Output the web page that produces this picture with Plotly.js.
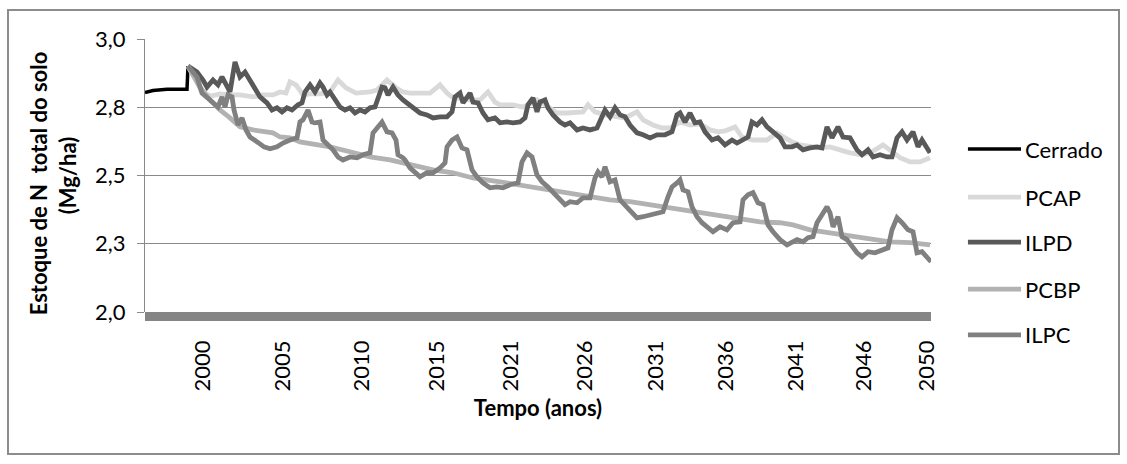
<!DOCTYPE html>
<html>
<head>
<meta charset="utf-8">
<script src="https://cdn.plot.ly/plotly-3.0.1.min.js"></script>
<style>
  html, body { margin: 0; padding: 0; background: #ffffff; }
  #frame { position: absolute; left: 7px; top: 9px; width: 1113px; height: 446px;
           border: 2px solid #8c8c8c; box-sizing: border-box; background: #fff; }
  #chart { width: 1109px; height: 442px; }
</style>
</head>
<body>
<div id="frame"><div id="chart"></div></div>
<script>
// ---- data (time step index, N stock in Mg/ha) ----
const cerradoT = [0, 8, 22, 42, 43];
const cerradoN = [2.804, 2.811, 2.816, 2.816, 2.901];

const pcapT = [43,51,57,66,75,85,95,108,118,128,135,141,145,151,158,165,175,185,193,201,211,225,232,242,251,258,265,275,285,295,302,307,315,325,335,343,350,355,368,378,385,392,400,412,422,432,438,443,450,460,470,480,492,498,508,517,525,535,545,555,565,573,580,590,597,608,622,632,640,647,655,665,675,685,695,705,717,727,738,745,755,765,775,785];
const pcapN = [2.901,2.850,2.806,2.791,2.799,2.795,2.795,2.788,2.795,2.795,2.806,2.802,2.843,2.832,2.795,2.799,2.799,2.806,2.850,2.821,2.802,2.806,2.813,2.850,2.821,2.806,2.802,2.802,2.802,2.832,2.802,2.788,2.784,2.777,2.777,2.806,2.769,2.759,2.759,2.751,2.762,2.777,2.759,2.729,2.729,2.733,2.733,2.759,2.733,2.722,2.718,2.711,2.733,2.704,2.685,2.674,2.674,2.696,2.685,2.689,2.667,2.660,2.663,2.678,2.641,2.630,2.630,2.656,2.638,2.623,2.612,2.605,2.601,2.605,2.594,2.583,2.576,2.587,2.612,2.594,2.565,2.550,2.550,2.565];

const ilpdT = [43,52,58,62,68,73,77,81,85,90,95,100,103,108,115,122,127,132,137,142,147,153,157,160,165,170,175,178,182,185,190,195,200,205,210,215,220,225,230,233,237,240,243,248,253,258,263,268,275,282,288,295,302,307,310,315,318,325,328,333,338,343,350,355,362,368,375,380,383,388,392,395,400,403,408,415,420,425,432,438,445,452,457,460,465,470,475,480,485,492,498,505,512,520,527,532,535,540,545,550,555,560,567,573,580,587,592,598,603,607,612,617,622,628,635,640,647,652,658,665,672,677,682,687,693,698,705,712,717,723,728,735,742,747,752,757,762,768,773,777,782,785];
const ilpdN = [2.901,2.879,2.850,2.824,2.850,2.832,2.861,2.835,2.806,2.916,2.861,2.879,2.861,2.824,2.788,2.766,2.740,2.748,2.733,2.748,2.740,2.759,2.766,2.806,2.832,2.806,2.839,2.824,2.795,2.806,2.777,2.751,2.740,2.748,2.729,2.740,2.733,2.748,2.751,2.788,2.824,2.821,2.795,2.824,2.795,2.777,2.762,2.748,2.729,2.722,2.711,2.715,2.715,2.733,2.788,2.802,2.766,2.802,2.769,2.766,2.729,2.704,2.711,2.693,2.696,2.693,2.696,2.711,2.759,2.784,2.733,2.769,2.777,2.748,2.722,2.696,2.685,2.693,2.667,2.674,2.667,2.674,2.711,2.740,2.715,2.748,2.722,2.715,2.685,2.656,2.649,2.638,2.649,2.649,2.660,2.722,2.729,2.696,2.729,2.693,2.696,2.660,2.630,2.638,2.612,2.630,2.619,2.630,2.641,2.696,2.685,2.704,2.678,2.660,2.638,2.605,2.605,2.612,2.594,2.601,2.605,2.601,2.678,2.638,2.678,2.641,2.638,2.594,2.576,2.594,2.568,2.576,2.568,2.568,2.638,2.660,2.630,2.660,2.605,2.630,2.601,2.583];

const pcbpT = [43,55,65,75,85,95,108,118,128,135,145,155,170,185,205,225,245,258,268,288,308,328,355,388,405,425,445,465,485,505,518,535,555,575,595,615,635,648,665,685,705,725,745,765,785];
const pcbpN = [2.901,2.824,2.777,2.740,2.711,2.678,2.667,2.660,2.656,2.641,2.638,2.623,2.616,2.605,2.587,2.568,2.557,2.546,2.539,2.521,2.510,2.491,2.477,2.458,2.447,2.437,2.422,2.411,2.404,2.393,2.385,2.374,2.363,2.356,2.345,2.330,2.327,2.319,2.301,2.290,2.283,2.272,2.257,2.254,2.246];

const ilpcT = [43,52,57,63,68,73,77,80,83,87,89,93,97,101,105,110,115,119,125,132,138,145,152,155,158,163,167,170,175,178,183,188,193,198,205,212,218,225,228,232,237,242,247,251,253,258,260,265,270,275,282,288,295,300,302,307,312,317,322,327,332,338,345,352,358,365,373,377,382,387,392,397,403,408,415,420,425,432,438,445,450,453,457,460,465,470,475,480,485,492,498,505,512,518,523,527,532,535,538,543,547,552,557,563,568,575,582,588,595,598,603,608,613,618,623,628,635,642,648,652,658,663,668,672,677,682,685,688,693,697,702,707,712,717,723,730,737,743,747,752,757,763,768,772,777,782,786];
const ilpcN = [2.901,2.861,2.802,2.784,2.766,2.751,2.788,2.751,2.795,2.788,2.740,2.685,2.711,2.667,2.641,2.630,2.616,2.605,2.598,2.605,2.619,2.630,2.638,2.696,2.704,2.740,2.696,2.693,2.696,2.630,2.612,2.594,2.568,2.557,2.568,2.565,2.576,2.583,2.656,2.674,2.696,2.660,2.656,2.630,2.576,2.565,2.557,2.528,2.510,2.495,2.510,2.510,2.528,2.546,2.605,2.630,2.641,2.601,2.594,2.521,2.495,2.473,2.455,2.458,2.455,2.466,2.473,2.550,2.583,2.568,2.502,2.477,2.458,2.440,2.411,2.393,2.404,2.400,2.418,2.418,2.491,2.513,2.495,2.532,2.477,2.484,2.411,2.393,2.374,2.345,2.349,2.356,2.363,2.367,2.422,2.458,2.473,2.484,2.447,2.440,2.385,2.349,2.327,2.308,2.294,2.312,2.301,2.327,2.330,2.411,2.429,2.437,2.400,2.393,2.319,2.294,2.265,2.246,2.257,2.265,2.257,2.272,2.276,2.327,2.356,2.385,2.363,2.312,2.349,2.276,2.265,2.239,2.217,2.202,2.221,2.217,2.228,2.235,2.301,2.345,2.327,2.301,2.294,2.217,2.221,2.202,2.184];

const seriesNames  = ['Cerrado', 'PCAP', 'ILPD', 'PCBP', 'ILPC'];
const seriesColors = ['#000000', '#d9d9d9', '#595959', '#b2b2b2', '#808080'];
const seriesWidths = [3.5, 4.8, 4.8, 4.8, 4.8];
const seriesT = [cerradoT, pcapT, ilpdT, pcbpT, ilpcT];
const seriesN = [cerradoN, pcapN, ilpdN, pcbpN, ilpcN];

const xTickVals  = [58, 138, 217, 292, 366, 440, 511, 581, 651, 719, 782];
const xTickText  = ['2000','2005','2010','2015','2021','2026','2031','2036','2041','2046','2050'];
const yTickVals  = [2.0, 2.25, 2.5, 2.75, 3.0];
const yTickText  = ['2,0', '2,3', '2,5', '2,8', '3,0'];

const FONT = 'Lato, "Open Sans", sans-serif';
const FS = 22;

const traces = seriesNames.map((name, i) => ({
  type: 'scatter', mode: 'lines', name: name,
  x: seriesT[i], y: seriesN[i],
  line: { color: seriesColors[i], width: seriesWidths[i] },
  hoverinfo: 'skip'
}));

// custom legend (line sample + text) placed in paper coordinates
const legendY = [0.597, 0.421, 0.256, 0.084, -0.084];
const shapes = [
  { type: 'rect', xref: 'paper', yref: 'paper', x0: 0, x1: 1, y0: -0.033, y1: 0,
    fillcolor: '#858585', line: { width: 0 }, layer: 'above' }
];
const annotations = [];
seriesNames.forEach((name, i) => {
  shapes.push({ type: 'line', xref: 'paper', yref: 'paper',
    x0: 1.047, x1: 1.1145, y0: legendY[i], y1: legendY[i],
    line: { color: seriesColors[i], width: i === 0 ? 3.5 : 4.8 } });
  annotations.push({ xref: 'paper', yref: 'paper', x: 1.1170, y: legendY[i],
    xanchor: 'left', yanchor: 'middle', text: name, showarrow: false,
    font: { family: FONT, size: FS, color: '#000' } });
});

const layout = {
  width: 1109, height: 442,
  margin: { l: 136, r: 187, t: 28, b: 141 },
  paper_bgcolor: '#ffffff', plot_bgcolor: '#ffffff',
  showlegend: false,
  font: { family: FONT, size: FS, color: '#000' },
  xaxis: {
    range: [0, 786], showgrid: false, zeroline: false, showline: false,
    tickmode: 'array', tickvals: xTickVals, ticktext: xTickText,
    tickangle: -90, ticks: '', ticklabelstandoff: 23,
    tickfont: { family: FONT, size: FS, color: '#000' },
    title: { text: '<b>Tempo (anos)</b>', font: { family: FONT, size: FS, color: '#000' }, standoff: 10 }
  },
  yaxis: {
    range: [2.0, 3.0], showgrid: true, gridcolor: '#8a8a8a', gridwidth: 1,
    zeroline: false, showline: true, linecolor: '#8a8a8a', linewidth: 1,
    ticks: 'outside', ticklen: 7, tickcolor: '#8a8a8a', ticklabelstandoff: 7,
    tickmode: 'array', tickvals: yTickVals, ticktext: yTickText,
    tickfont: { family: FONT, size: FS, color: '#000' },
    title: { text: '<b>Estoque de N&nbsp; total do solo&nbsp;&nbsp;&nbsp;<br>(Mg/ha)</b>',
             font: { family: FONT, size: FS, color: '#000' }, standoff: 12 }
  },
  shapes: shapes,
  annotations: annotations
};

Plotly.newPlot('chart', traces, layout, { staticPlot: true, displayModeBar: false });
</script>
</body>
</html>
